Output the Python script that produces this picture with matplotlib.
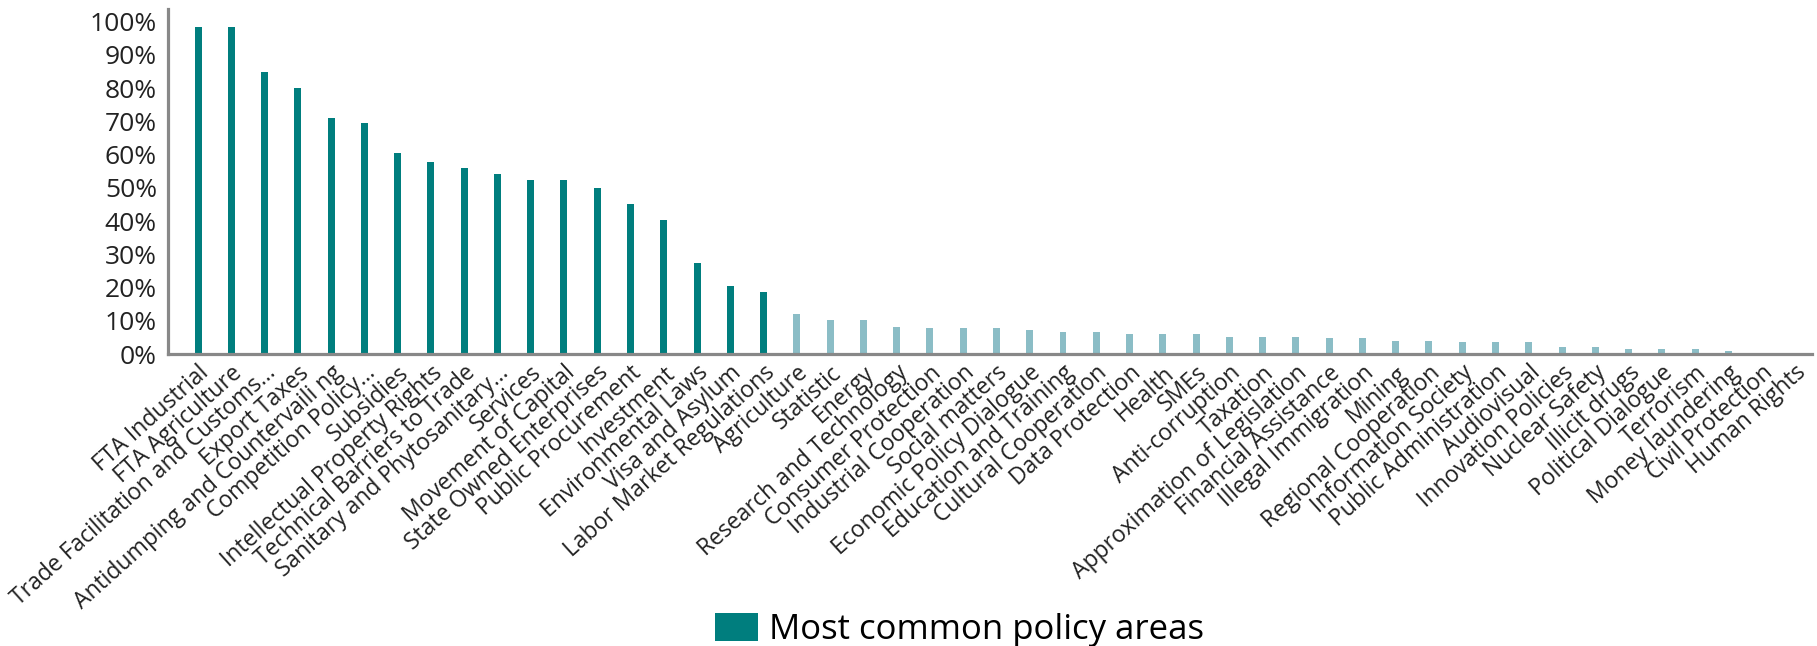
import matplotlib.pyplot as plt

plt.rcParams['font.family'] = ['Open Sans', 'DejaVu Sans']

common_areas = ["FTA Industrial", "FTA Agriculture", "Trade Facilitation and Customs…",
                "Export Taxes", "Antidumping and Countervaili ng", "Competition Policy…",
                "Subsidies", "Intellectual Property Rights", "Technical Barriers to Trade",
                "Sanitary and Phytosanitary…", "Services", "Movement of Capital",
                "State Owned Enterprises", "Public Procurement", "Investment",
                "Environmental Laws", "Visa and Asylum", "Labor Market Regulations"]
common_share = [98.5, 98.5, 85.0, 80.0, 71.0, 69.6, 60.4, 57.9, 56.1, 54.2,
                52.4, 52.4, 49.9, 45.1, 40.2, 27.4, 20.6, 18.6]

other_areas = ["Agriculture", "Statistic", "Energy", "Research and Technology",
               "Consumer Protection", "Industrial Cooperation", "Social matters",
               "Economic Policy Dialogue", "Education and Training", "Cultural Cooperation",
               "Data Protection", "Health", "SMEs", "Anti-corruption", "Taxation",
               "Approximation of Legislation", "Financial Assistance", "Illegal Immigration",
               "Mining", "Regional Cooperation", "Information Society",
               "Public Administration", "Audiovisual", "Innovation Policies",
               "Nuclear Safety", "Illicit drugs", "Political Dialogue", "Terrorism",
               "Money laundering", "Civil Protection", "Human Rights"]
other_share = [12.0, 10.2, 10.2, 8.2, 7.7, 7.7, 7.7, 7.1, 6.5, 6.5, 5.9, 5.9, 5.9,
               5.2, 5.2, 5.2, 4.7, 4.7, 4.0, 4.0, 3.5, 3.5, 3.5, 2.1, 2.1, 1.6,
               1.6, 1.6, 1.0, 0.3, 0.3]

labels = common_areas + other_areas
x_common = list(range(len(common_areas)))
x_other = list(range(len(common_areas), len(labels)))

fig = plt.figure(figsize=(18.17, 6.46), dpi=100)
ax = fig.add_axes([0.0925, 0.452, 0.9045, 0.534])

bars = ax.bar(x_common, common_share, width=0.21, color='#007E7E', label='Most common policy areas')
ax.bar(x_other, other_share, width=0.21, color='#8BBDC6')

ax.set_xlim(-0.9, len(labels) - 0.5)
ax.set_ylim(0, 103.8)
ax.set_yticks(range(0, 101, 10))
ax.set_yticklabels([f"{v}%" for v in range(0, 101, 10)], fontsize=19, color='#222222')
ax.set_xticks(range(len(labels)))
ax.set_xticklabels(labels, rotation=42, ha='right', va='top', rotation_mode='anchor',
                   fontsize=16.5, color='#222222')
ax.tick_params(axis='both', length=0)
ax.tick_params(axis='y', pad=8)
ax.tick_params(axis='x', pad=5)

for s in ['top', 'right']:
    ax.spines[s].set_visible(False)
for s in ['left', 'bottom']:
    ax.spines[s].set_color('#888888')
    ax.spines[s].set_linewidth(2.3)

fig.legend(handles=[bars], loc='lower center', bbox_to_anchor=(0.528, -0.05),
           frameon=False, fontsize=25, handlelength=1.25, handleheight=0.85,
           handletextpad=0.3)

fig.savefig('out.png', dpi=100)
